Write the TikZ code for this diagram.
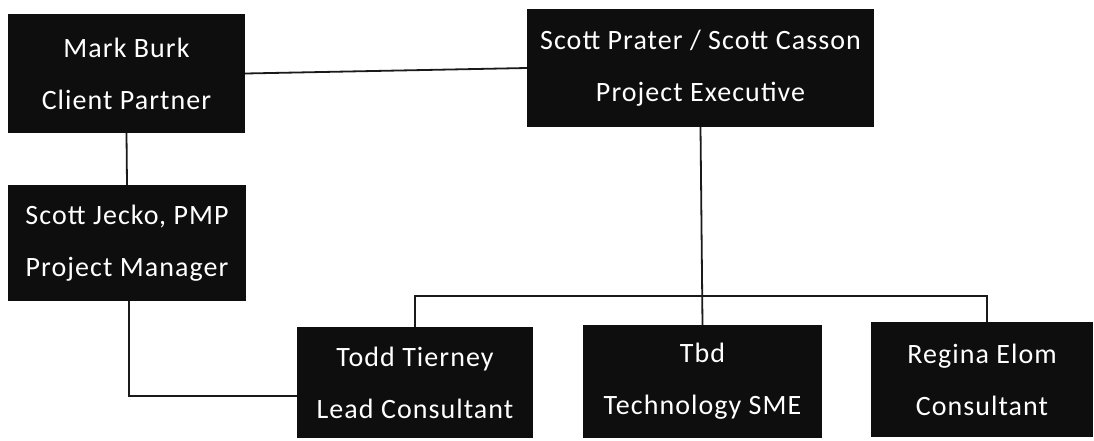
\documentclass[tikz,border=0pt]{standalone}
\usepackage{fontspec}
\setmainfont{Carlito}[LetterSpace=3.8]
\definecolor{boxfill}{HTML}{0E0E0E}
\definecolor{linecol}{HTML}{1A1A1A}
\begin{document}
\begin{tikzpicture}[x=1pt,y=-1pt,
  orgbox/.style={fill=boxfill, draw=none, text=white, align=center,
    font=\fontsize{28}{52}\selectfont, inner sep=0pt},
  conn/.style={draw=linecol, line width=1.8pt}]
\useasboundingbox (0,0) rectangle (1094,440);
\node[orgbox, minimum width=237pt, minimum height=119pt] (mark) at (126.5,73.5) {Mark Burk\\Client Partner};
\node[orgbox, minimum width=347pt, minimum height=118pt] (exec) at (700.5,68) {Scott Prater / Scott Casson\\Project Executive};
\node[orgbox, minimum width=238pt, minimum height=116pt] (jecko) at (127,243) {Scott Jecko, PMP\\Project Manager};
\node[orgbox, minimum width=236pt, minimum height=111pt] (todd) at (415,382.5) {Todd Tierney\\Lead Consultant};
\node[orgbox, minimum width=239pt, minimum height=113pt] (tbd) at (702.5,381.5) {Tbd\\Technology SME};
\node[orgbox, minimum width=222pt, minimum height=115pt] (regina) at (982,379.5) {Regina Elom\\Consultant};
\coordinate (bus) at (702,296);
\draw[conn] (mark.east) -- (exec.west);
\draw[conn] (mark.south) -- (jecko.north);
\draw[conn] ([xshift=2pt]jecko.south) |- ([yshift=-13.5pt]todd.west);
\draw[conn] (exec.south) -- (tbd.north);
\draw[conn] (todd.north) |- (bus) -| ([xshift=5pt]regina.north);
\end{tikzpicture}
\end{document}
